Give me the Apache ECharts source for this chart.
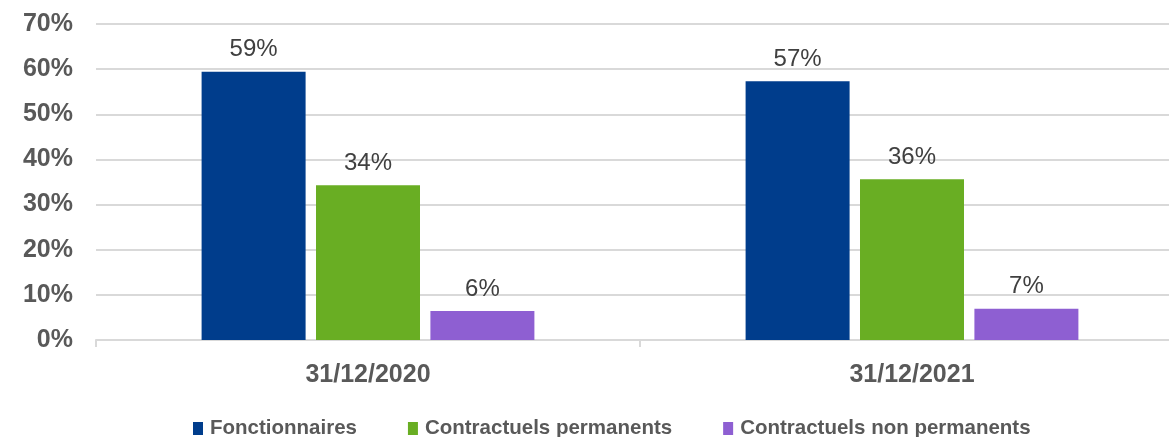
<!DOCTYPE html>
<html><head><meta charset="utf-8">
<script src="https://cdn.jsdelivr.net/npm/echarts@6/dist/echarts.min.js"></script>
<style>html,body{margin:0;padding:0;background:#fff;overflow:hidden}#c{width:1184px;height:437px}</style>
</head><body><div id="c"></div>
<script>
const categories = ['31/12/2020', '31/12/2021'];
const seriesNames = ['Fonctionnaires', 'Contractuels permanents', 'Contractuels non permanents'];
const fonctionnaires = [59.4, 57.3];
const contractuelsPermanents = [34.3, 35.6];
const contractuelsNonPermanents = [6.4, 6.9];
const colors = ['#003D8C', '#69AE23', '#8E5FD2'];
const values = [fonctionnaires, contractuelsPermanents, contractuelsNonPermanents];

const chart = echarts.init(document.getElementById('c'));
chart.setOption({
  animation: false,
  backgroundColor: '#fff',
  grid: { left: 96, top: 24, bottom: 97, right: 0 },
  legend: {
    left: 188, top: 413, itemWidth: 10, itemHeight: 13, itemGap: 51,
    icon: 'rect',
    textStyle: { fontFamily: 'Liberation Sans, Arial', fontWeight: 'bold', fontSize: 20.5, color: '#595959', padding: [0, 0, 0, 2] },
    data: seriesNames
  },
  xAxis: {
    type: 'category', data: categories,
    axisLine: { lineStyle: { color: '#d9d9d9', width: 2 } },
    axisTick: { show: true, length: 7, lineStyle: { color: '#d9d9d9', width: 2 } },
    axisLabel: { fontFamily: 'Liberation Sans, Arial', fontWeight: 'bold', fontSize: 25, color: '#595959', margin: 23 }
  },
  yAxis: {
    type: 'value', min: 0, max: 70, interval: 10,
    axisLine: { show: false }, axisTick: { show: false },
    splitLine: { lineStyle: { color: '#d9d9d9', width: 2 } },
    axisLabel: { formatter: '{value}%', fontFamily: 'Liberation Sans, Arial', fontWeight: 'bold', fontSize: 25, color: '#595959', margin: 23 }
  },
  series: seriesNames.map((n, i) => ({
    name: n, type: 'bar', data: values[i], barWidth: 104, barGap: '10%',
    itemStyle: { color: colors[i] },
    label: {
      show: true, position: 'top', distance: 10,
      formatter: p => Math.round(p.value) + '%',
      fontFamily: 'Liberation Sans, Arial', fontSize: 24, color: '#404040'
    }
  }))
});
</script></body></html>
